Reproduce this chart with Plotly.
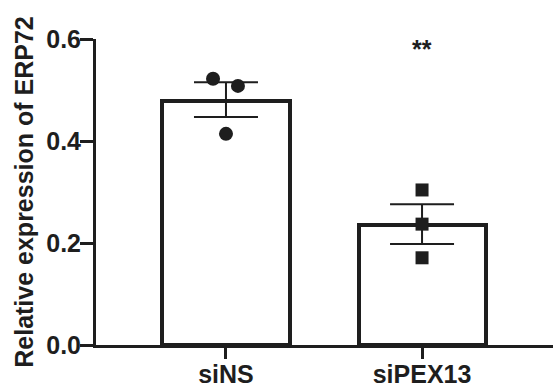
import plotly.graph_objects as go

categories = ["siNS", "siPEX13"]
means = [0.478, 0.235]
sem_plus = [0.037, 0.041]
sem_minus = [0.031, 0.037]
points_siNS = [0.522, 0.508, 0.414]
points_siPEX13 = [0.304, 0.237, 0.171]
jitter_siNS = [-0.066, 0.061, 0.0]
jitter_siPEX13 = [0.0, 0.0, 0.0]
y_ticks = [0.0, 0.2, 0.4, 0.6]
y_ticklabels = ["0.0", "0.2", "0.4", "0.6"]
significance = "**"

ink = "#1e1e1e"
font_family = "Liberation Sans, Arial, sans-serif"
fsize = 25
xpos = list(range(len(categories)))

fig = go.Figure()
fig.add_trace(go.Bar(
    x=xpos, y=means, width=0.648,
    marker=dict(color="white", line=dict(color=ink, width=4)),
    error_y=dict(type="data", array=sem_plus, arrayminus=sem_minus,
                 color=ink, thickness=2, width=32, symmetric=False),
    showlegend=False,
))
fig.add_trace(go.Scatter(
    x=[xpos[0] + j for j in jitter_siNS], y=points_siNS, mode="markers",
    marker=dict(symbol="circle", size=14, color=ink), showlegend=False,
))
fig.add_trace(go.Scatter(
    x=[xpos[1] + j for j in jitter_siPEX13], y=points_siPEX13, mode="markers",
    marker=dict(symbol="square", size=13, color=ink), showlegend=False,
))
fig.add_annotation(x=xpos[1], y=0.58, text=significance, showarrow=False,
                   yanchor="middle",
                   font=dict(family=font_family, size=fsize, color=ink, weight="bold"))

fig.update_layout(
    width=553, height=390,
    margin=dict(l=96, r=0, t=39, b=45),
    paper_bgcolor="white", plot_bgcolor="white",
    bargap=0,
)
fig.update_xaxes(
    range=[-0.663, 1.668], tickvals=xpos, ticktext=categories,
    showline=True, linecolor=ink, linewidth=3,
    ticks="outside", ticklen=11, tickwidth=3, tickcolor=ink,
    ticklabelstandoff=-6,
    showgrid=False, zeroline=False, automargin=False,
    tickfont=dict(family=font_family, size=fsize, color=ink, weight="bold"),
)
fig.update_yaxes(
    range=[0, 0.6], tickvals=y_ticks, ticktext=y_ticklabels,
    showline=True, linecolor=ink, linewidth=3,
    ticks="outside", ticklen=13, tickwidth=3, tickcolor=ink,
    ticklabelstandoff=-6,
    showgrid=False, zeroline=False, automargin=False,
    tickfont=dict(family=font_family, size=fsize, color=ink, weight="bold"),
    title=dict(text="Relative expression of ERP72", standoff=6,
               font=dict(family=font_family, size=fsize, color=ink, weight="bold")),
)

fig.write_html("out.html", config={"displayModeBar": False},
               post_script="document.body.style.margin='0';")
